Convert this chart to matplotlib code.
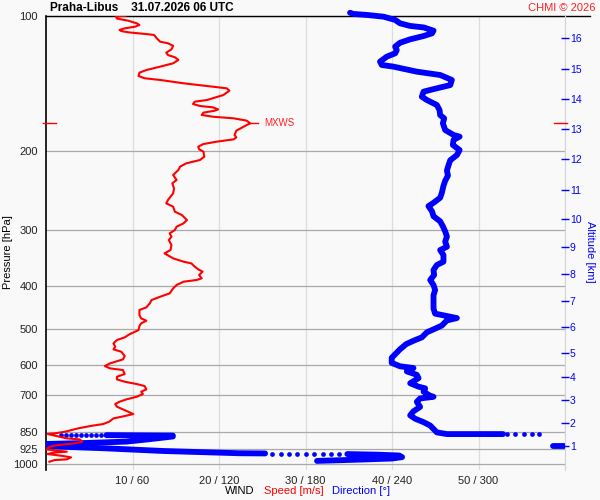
import numpy as np
import matplotlib as mpl
mpl.use('Agg')
import matplotlib.pyplot as plt
from matplotlib.ticker import NullLocator

plt.rcParams['font.family'] = ['Liberation Sans', 'DejaVu Sans']

station = "Praha-Libus"
stamp = "31.07.2026 06 UTC"

# pressure levels / grid
p_levels = [100, 200, 300, 400, 500, 600, 700, 850, 925, 1000]
wind_ticks = [10, 20, 30, 40, 50]
wind_labels = ["10 / 60", "20 / 120", "30 / 180", "40 / 240", "50 / 300"]

# altitude axis (km) and the pressure where each km sits
alt_km = [1, 2, 3, 4, 5, 6, 7, 8, 9, 10, 11, 12, 13, 14, 15, 16]
alt_p = [911.7, 811.4, 719.9, 638.6, 564.6, 494.0, 432.9, 376.9, 327.6,
         284.1, 244.8, 209.1, 178.9, 153.4, 131.7, 112.0]

# wind speed profile [m/s]
spd_p = [100, 100.5, 101.5, 102.6, 104.0, 104.9, 105.8, 106.7, 107.6, 108.2,
         108.9, 109.9, 110.4, 112.3, 114.3, 115.2, 116.8, 118.9, 120.9, 122.4,
         123.8, 125.5, 127.7, 129.9, 132.2, 134.0, 136.3, 137.9, 139.1, 141.5,
         143.5, 145.2, 147.0, 150.3, 154.2, 155.5, 157.4, 159.0, 160.1, 161.8,
         162.9, 164.5, 166.5, 168.0, 169.4, 171.4, 173.8, 176.2, 180.5, 184.5,
         186.8, 188.7, 191.0, 193.3, 195.9, 198.6, 201.0, 206.3, 209.8, 213.5,
         217.1, 220.9, 226.6, 232.5, 236.5, 242.7, 249.0, 257.7, 262.1, 266.7,
         273.6, 278.3, 285.6, 290.5, 295.5, 300.6, 305.8, 311.1, 316.5, 324.7,
         333.2, 338.9, 347.7, 353.7, 356.8, 362.9, 367.9, 372.3, 378.8, 385.3,
         388.6, 392.0, 398.7, 405.6, 416.2, 423.4, 430.7, 438.1, 447.2, 453.4,
         465.2, 473.2, 478.9, 485.5, 492.2, 502.4, 506.7, 512.8, 521.7, 528.9,
         537.9, 547.4, 554.9, 561.6, 574.2, 584.1, 591.2, 596.3, 604.6, 611.8,
         617.1, 629.9, 638.6, 647.4, 655.2, 663.1, 669.9, 681.5, 689.7, 698.0,
         707.6, 717.4, 726.1, 734.8, 744.9, 764.3, 773.5, 781.5, 791.0, 804.6,
         814.3, 822.7, 832.6, 847.0, 854.3, 857.2, 866.1, 876.5, 881.0, 891.6,
         899.4, 907.0, 914.8, 927.4, 933.8, 938.5, 943.4, 949.8, 959.7, 966.3,
         976.2, 979.6, 988.0]
spd_ms = [9.2, 8.1, 8.2, 9.5, 10.5, 10.8, 10.3, 9.1, 8.5, 8.7,
          9.5, 11.6, 12.5, 12.8, 13.2, 14.1, 14.7, 14.5, 13.9, 14.1,
          14.9, 15.3, 14.7, 13.2, 11.6, 10.8, 10.7, 11.4, 13.2, 15.9,
          18.6, 20.9, 21.2, 20.5, 18.6, 17.2, 17.0, 17.8, 19.3, 19.9,
          19.5, 18.2, 18.0, 19.3, 21.7, 23.2, 23.6, 23.0, 22.0, 21.8,
          22.0, 21.7, 19.7, 18.2, 17.6, 17.7, 18.2, 18.3, 17.8, 16.2,
          15.5, 15.3, 14.7, 15.1, 14.6, 14.8, 14.7, 14.1, 13.9, 14.7,
          14.9, 15.7, 16.3, 15.9, 15.1, 14.9, 14.3, 14.5, 14.2, 14.5,
          14.4, 13.7, 14.7, 15.9, 16.8, 17.2, 17.6, 18.1, 17.7, 18.0,
          17.4, 15.9, 15.1, 14.7, 14.3, 13.2, 12.2, 12.0, 11.6, 10.8,
          10.8, 11.0, 11.6, 11.0, 10.8, 10.7, 10.3, 9.7, 9.1, 8.2,
          7.8, 8.0, 7.8, 8.7, 9.1, 8.9, 8.0, 7.4, 6.8, 7.4,
          8.9, 9.1, 8.2, 8.2, 9.1, 10.5, 11.4, 11.6, 11.0, 11.2,
          10.5, 9.3, 8.5, 8.0, 8.2, 9.5, 10.1, 9.1, 7.8, 7.3,
          6.6, 5.1, 3.7, 2.2, 1.0, 0.2, 1.2, 2.4, 3.9, 4.2,
          3.3, 1.4, 0.4, 0.0, 1.4, 2.4, 0.8, 0.2, 2.0, 2.9,
          2.4, 1.0, 0.4]

# wind direction profile [deg], main trace from the top down
dir_p = [98.5, 99.1, 99.6, 100.5, 102.2, 104.0, 105.4, 106.2, 108.0, 109.5,
         111.0, 112.9, 114.9, 117.2, 119.3, 121.3, 123.4, 126.6, 128.8, 129.9,
         133.3, 135.6, 139.1, 142.8, 145.2, 147.7, 151.6, 154.2, 158.2, 162.4,
         166.6, 169.4, 173.8, 179.9, 184.5, 186.1, 189.2, 194.2, 199.4, 204.6,
         210.1, 215.6, 221.4, 227.3, 233.4, 239.6, 248.1, 254.7, 261.4, 265.9,
         272.9, 280.1, 287.5, 295.0, 302.8, 310.8, 319.1, 327.6, 333.2, 341.8,
         353.7, 359.8, 369.2, 378.8, 388.6, 398.7, 409.2, 420.0, 431.0, 450.0,
         461.9, 465.9, 472.5, 478.2, 490.9, 496.9, 508.3, 521.7, 530.9, 540.2,
         554.5, 564.3, 579.3, 594.8, 605.3, 610.7, 621.4, 632.3, 643.4, 660.4,
         672.0, 677.9, 689.7, 704.2, 707.9, 714.0, 726.5, 745.6, 762.6, 778.7,
         792.4, 806.4, 820.6, 835.1, 849.9, 857.3, 857.3, 857.3]
dir_deg = [210.9, 213.2, 222.5, 234.1, 242.2, 245.6, 252.6, 261.9, 268.8, 267.7,
           261.9, 252.6, 245.6, 242.2, 243.3, 242.2, 236.4, 231.7, 232.9, 241.0,
           257.2, 273.4, 281.5, 280.4, 271.1, 261.9, 260.7, 264.2, 271.1, 273.0,
           273.4, 276.2, 275.3, 276.9, 282.7, 286.9, 282.7, 282.2, 286.9, 285.0,
           280.4, 279.2, 278.1, 278.8, 276.9, 275.7, 274.6, 273.4, 268.8, 265.3,
           267.7, 268.8, 273.4, 275.3, 276.9, 278.1, 276.9, 278.1, 273.4, 275.7,
           275.7, 271.1, 268.8, 269.2, 266.5, 268.8, 269.9, 268.8, 268.8, 268.8,
           269.9, 275.7, 285.0, 278.1, 274.6, 271.1, 264.2, 260.7, 254.9, 249.8,
           245.6, 243.3, 239.8, 239.8, 245.6, 254.9, 250.3, 257.2, 258.4, 252.6,
           258.4, 263.0, 261.9, 266.5, 268.8, 259.5, 257.2, 259.5, 254.9, 252.6,
           256.1, 261.9, 266.5, 268.8, 271.1, 278.1, 300.0, 317.0]

# near-ground direction, split where it wraps past north
low1_p = [862, 864, 868, 880, 891, 897, 902]
low1_deg = [42, 88, 88, 72, 56, 30, 0]
blob_p = [911, 911]
blob_deg = [352, 359]
low2_p = [912, 922, 935, 946, 947]
low2_deg = [0, 40, 81, 134, 152]
low3_p = [950, 953, 957, 965, 972, 978, 984]
low3_deg = [209, 230, 245, 247, 240, 215, 188]

# isolated readings (drawn as dots)
dots_a_p = [857.3] * 5
dots_a_deg = [320.0, 325.5, 331.7, 337.2, 342.0]
dots_b_p = [862] * 9
dots_b_deg = [10.7, 14.2, 17.6, 21.1, 24.6, 28.0, 31.5, 35.0, 38.4]
dots_c_p = [948] * 9
dots_c_deg = [156.8, 163.1, 168.6, 174.2, 180.4, 186.0, 192.2, 197.8, 203.3]

bg = '#f9f9f9'
fig = plt.figure(figsize=(6, 5), dpi=100, facecolor=bg)
ax = fig.add_axes([46 / 600, 30 / 500, 519 / 600, 454.3 / 500], facecolor=bg)

ptop, pbot = 100, 1031

# direction on base axes
ax.set_yscale('log')
ax.set_ylim(pbot, ptop)
ax.set_xlim(0, 360)
blue = '#0000ff'
lw_dir = 4.2
ax.plot(dir_deg, dir_p, color=blue, lw=lw_dir, solid_capstyle='round',
        solid_joinstyle='round', zorder=3, clip_on=False)
for xs, ys in [(low1_deg, low1_p), (blob_deg, blob_p), (low2_deg, low2_p), (low3_deg, low3_p)]:
    ax.plot(xs, ys, color=blue, lw=lw_dir, solid_capstyle='round', solid_joinstyle='round', zorder=3)
for xs, ys in [(dots_a_deg, dots_a_p), (dots_b_deg, dots_b_p), (dots_c_deg, dots_c_p)]:
    ax.plot(xs, ys, 'o', color=blue, ms=3.4, mew=0, zorder=3)

ax.set_yticks(p_levels)
ax.set_yticklabels([str(p) for p in p_levels])
ax.yaxis.set_minor_locator(NullLocator())
ax.set_xticks([t * 6 for t in wind_ticks])
ax.set_xticklabels(wind_labels)
ax.tick_params(axis='both', length=0, labelsize=8, colors='#222222')
ax.tick_params(axis='y', pad=6)
ax.tick_params(axis='x', pad=4)
ax.grid(axis='y', color='#a9a9a9', lw=0.9, zorder=1)
ax.grid(axis='x', color='#dcdcdc', lw=0.9, zorder=1)
for s in ['top', 'bottom']:
    ax.spines[s].set_visible(False)
ax.spines['left'].set_color('black')
ax.spines['left'].set_linewidth(1.2)
ax.spines['right'].set_color('#d4d4d4')
ax.spines['right'].set_linewidth(0.9)

# top border line, runs a bit past the right axis
ax.plot([0, 1.048], [ptop, ptop], color='black', lw=1.0, transform=ax.get_yaxis_transform(), clip_on=False, zorder=2)

# speed on a twin axes (drawn above direction)
axs = ax.twiny()
axs.set_xlim(0, 60)
axs.set_ylim(pbot, ptop)
axs.plot(spd_ms, spd_p, color='red', lw=1.5, zorder=4)
axs.set_xticks([])
for s in axs.spines.values():
    s.set_visible(False)

# max wind marker
imax = int(np.argmax(spd_ms))
smax, pmax = spd_ms[imax], spd_p[imax]
axs.plot([smax, smax + 0.9], [pmax, pmax], color='red', lw=1.0)
axs.annotate('MXWS', (smax, pmax), xytext=(10.5, 0), textcoords='offset points',
             va='center', ha='left', color='#ff2020', fontsize=7)
tr = axs.get_yaxis_transform()
axs.plot([-0.005, 0.02], [pmax, pmax], color='red', lw=1.0, transform=tr, clip_on=False)
axs.plot([0.9785, 1.004], [pmax, pmax], color='red', lw=1.0, transform=tr, clip_on=False)

# altitude axis
axa = ax.twinx()
axa.set_yscale('log')
axa.set_ylim(pbot, ptop)
axa.set_yticks(alt_p)
axa.set_yticklabels([str(k) for k in alt_km])
axa.yaxis.set_minor_locator(NullLocator())
axa.tick_params(axis='y', direction='inout', length=6, width=1.0, colors=blue, labelsize=7.5, pad=0.5)
for s in axa.spines.values():
    s.set_visible(False)

# texts
fig.text(50 / 600, 1 - 8 / 500, station + "    " + stamp, fontsize=8.5, fontweight='bold', va='center', ha='left')
fig.text(596 / 600, 1 - 8 / 500, "CHMI \u00a9 2026", fontsize=8, color='#ff2020', va='center', ha='right')
fig.text(8 / 600, 1 - 252 / 500, "Pressure [hPa]", rotation=90, fontsize=8, va='center', ha='center')
fig.text(590 / 600, 1 - 252 / 500, "Altitude [km]", rotation=270, fontsize=8, color=blue, va='center', ha='center')
fig.text(225 / 600, 1 - 491 / 500, "WIND", fontsize=8, va='center', ha='left')
fig.text(264 / 600, 1 - 491 / 500, "Speed [m/s]", fontsize=8, color='red', va='center', ha='left')
fig.text(332 / 600, 1 - 491 / 500, "Direction [\u00b0]", fontsize=8, color=blue, va='center', ha='left')

fig.savefig('out.png', dpi=100, facecolor=bg)
